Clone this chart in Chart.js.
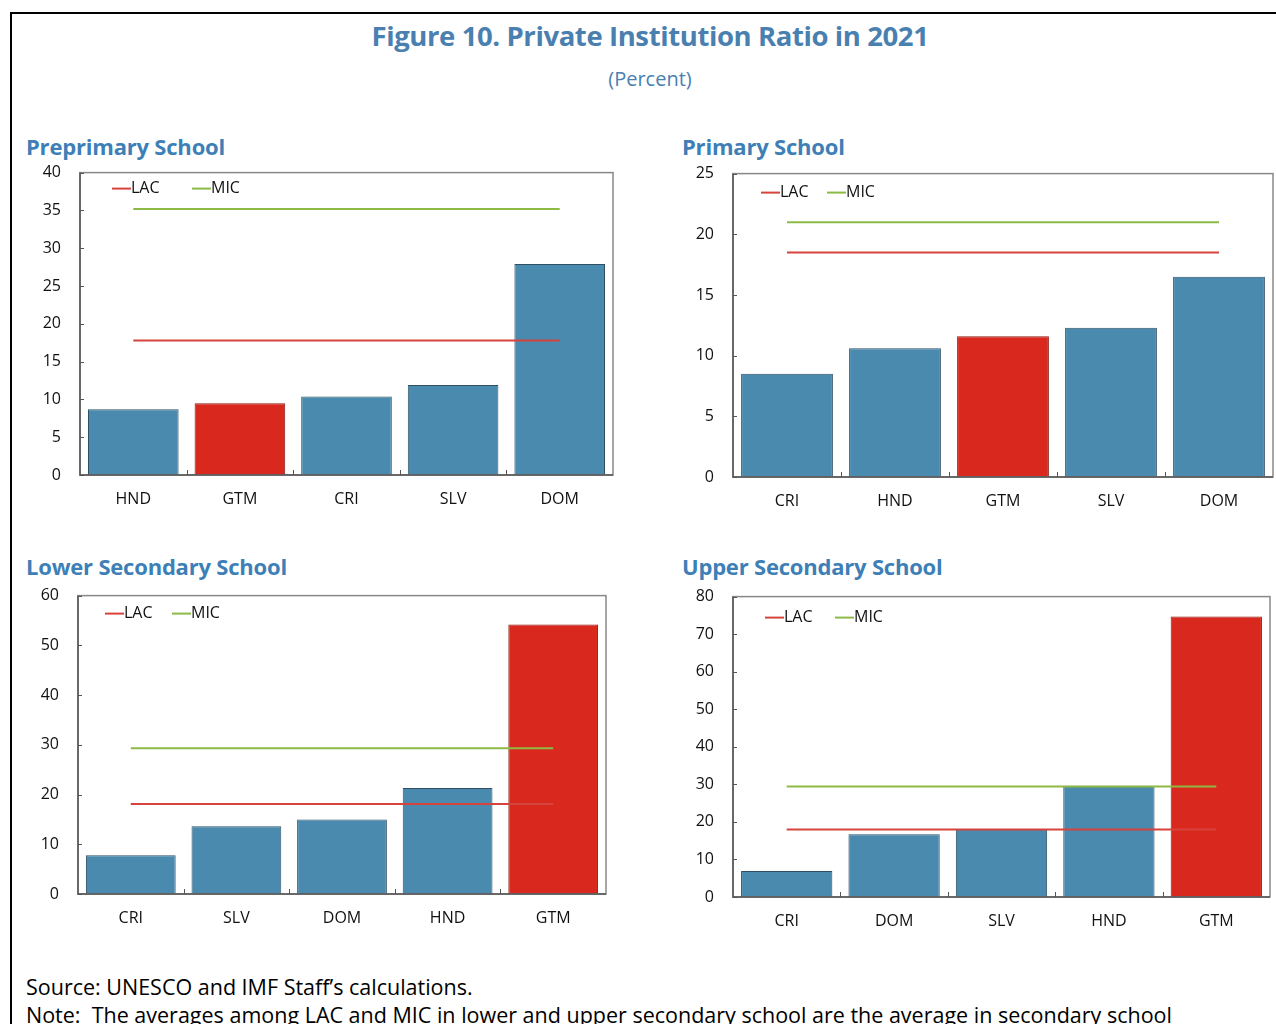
<!DOCTYPE html>
<html>
<head>
<meta charset="utf-8">
<script src="https://cdn.jsdelivr.net/npm/chart.js@4.4.1/dist/chart.umd.min.js"></script>
<style>
  html, body { margin: 0; padding: 0; background: #fff; overflow: hidden; }
  body { width: 1276px; height: 1024px; position: relative; font-family: "Open Sans", sans-serif; }
  #frame { position: absolute; left: 10px; top: 12px; width: 1300px; height: 1100px; border: 2px solid #000; box-sizing: border-box; }
  .abs { position: absolute; white-space: nowrap; }
  #title { left: 0; width: 1300px; text-align: center; top: 17px; font-size: 27.5px; font-weight: bold; color: #4a80b0; letter-spacing: -0.4px; }
  #sub { left: 0; width: 1300px; text-align: center; top: 65px; font-size: 20px; color: #4a80b0; }
  .ptitle { font-size: 22px; font-weight: bold; color: #3d7fb6; letter-spacing: -0.2px; }
  .foot { font-size: 21.5px; color: #000; left: 26px; }
  canvas { position: absolute; }
</style>
</head>
<body>
<div id="frame"></div>
<div id="title" class="abs">Figure 10. Private Institution Ratio in 2021</div>
<div id="sub" class="abs">(Percent)</div>
<div class="abs ptitle" style="left:26px;top:131px">Preprimary School</div>
<div class="abs ptitle" style="left:682px;top:131px">Primary School</div>
<div class="abs ptitle" style="left:26px;top:551px">Lower Secondary School</div>
<div class="abs ptitle" style="left:682px;top:551px">Upper Secondary School</div>
<canvas id="c1" width="585" height="371" style="left:30px;top:144px"></canvas>
<canvas id="c2" width="592" height="372" style="left:683px;top:145px"></canvas>
<canvas id="c3" width="580" height="367" style="left:28px;top:567px"></canvas>
<canvas id="c4" width="589" height="369" style="left:683px;top:568px"></canvas>
<div class="abs foot" style="top:972px">Source: UNESCO and IMF Staff’s calculations.</div>
<div class="abs foot" style="top:1000px">Note:&nbsp; The averages among LAC and MIC in lower and upper secondary school are the average in secondary school</div>
<script>
// data
const preCats = ['HND', 'GTM', 'CRI', 'SLV', 'DOM'];
const preVals = [8.7, 9.5, 10.4, 11.9, 27.9];
const preLac = [17.8, 17.8, 17.8, 17.8, 17.8];
const preMic = [35.2, 35.2, 35.2, 35.2, 35.2];

const priCats = ['CRI', 'HND', 'GTM', 'SLV', 'DOM'];
const priVals = [8.5, 10.6, 11.6, 12.3, 16.5];
const priLac = [18.5, 18.5, 18.5, 18.5, 18.5];
const priMic = [21.0, 21.0, 21.0, 21.0, 21.0];

const lowCats = ['CRI', 'SLV', 'DOM', 'HND', 'GTM'];
const lowVals = [7.8, 13.6, 15.0, 21.3, 54.2];
const lowLac = [18.1, 18.1, 18.1, 18.1, 18.1];
const lowMic = [29.3, 29.3, 29.3, 29.3, 29.3];

const uppCats = ['CRI', 'DOM', 'SLV', 'HND', 'GTM'];
const uppVals = [6.9, 16.7, 18.1, 29.6, 74.7];
const uppLac = [18.0, 18.0, 18.0, 18.0, 18.0];
const uppMic = [29.4, 29.4, 29.4, 29.4, 29.4];

const yMax = [40, 25, 60, 80];
const yStep = [5, 5, 10, 10];

const blue = '#4a8aae';
const red = '#d9291e';
const lacColor = '#d6423c';
const micColor = '#8dba45';
const font = '"Open Sans", sans-serif';

// box round the plot, inward ticks, legend inside plot
const framePlugin = {
  id: 'frame',
  afterDraw(chart) {
    const ctx = chart.ctx;
    const a = chart.chartArea;
    const x = chart.scales.x, y = chart.scales.y;
    ctx.save();
    ctx.strokeStyle = '#888';
    ctx.lineWidth = 1.5;
    ctx.strokeRect(a.left, a.top, a.right - a.left, a.bottom - a.top);
    ctx.strokeStyle = '#555';
    ctx.beginPath();
    ctx.moveTo(a.left, a.top); ctx.lineTo(a.left, a.bottom); ctx.lineTo(a.right, a.bottom);
    ctx.stroke();
    ctx.lineWidth = 1;
    ctx.beginPath();
    y.ticks.forEach(t => {
      const py = Math.round(y.getPixelForValue(t.value)) + 0.5;
      ctx.moveTo(a.left, py); ctx.lineTo(a.left + 4, py);
    });
    const n = chart.data.labels.length;
    for (let i = 1; i < n; i++) {
      const px = Math.round((x.getPixelForValue(i - 1) + x.getPixelForValue(i)) / 2) + 0.5;
      ctx.moveTo(px, a.bottom); ctx.lineTo(px, a.bottom - 5);
    }
    ctx.stroke();

    const lg = chart.options.plugins.frame;
    let lx = a.left + lg.dx;
    const ly = a.top + lg.dy;
    ctx.font = '16px ' + font;
    ctx.textBaseline = 'middle';
    chart.data.datasets.filter(d => d.type === 'line').forEach(d => {
      ctx.strokeStyle = d.borderColor;
      ctx.lineWidth = 2;
      ctx.beginPath(); ctx.moveTo(lx, ly); ctx.lineTo(lx + 19, ly); ctx.stroke();
      ctx.fillStyle = '#111';
      ctx.fillText(d.label, lx + 19, ly);
      lx += lg.gap;
    });
    ctx.restore();
  }
};

function makeChart(id, cats, vals, lac, mic, max, step, lg) {
  new Chart(document.getElementById(id), {
    type: 'bar',
    data: {
      labels: cats,
      datasets: [
        { type: 'line', label: 'LAC', data: lac, borderColor: lacColor, borderWidth: 2, pointRadius: 0, order: 0 },
        { type: 'line', label: 'MIC', data: mic, borderColor: micColor, borderWidth: 2, pointRadius: 0, order: 0 },
        {
          type: 'bar', label: 'Ratio', data: vals, order: 1,
          backgroundColor: cats.map(c => c === 'GTM' ? red : blue),
          borderColor: cats.map(c => c === 'GTM' ? '#8a1a12' : '#2f4f63'),
          borderWidth: 1,
          categoryPercentage: 1.0, barPercentage: 0.85
        }
      ]
    },
    options: {
      responsive: false,
      animation: false,
      devicePixelRatio: 1,
      layout: { padding: { top: 10, right: 2, left: 0, bottom: 0 } },
      plugins: { legend: { display: false }, tooltip: { enabled: false }, frame: lg },
      scales: {
        x: {
          grid: { display: false, drawTicks: false },
          border: { display: false },
          ticks: { color: '#111', font: { family: font, size: 16 }, padding: 15 },
          afterFit: s => { s.height = 40; }
        },
        y: {
          min: 0, max: max,
          grid: { display: false, drawTicks: false },
          border: { display: false },
          ticks: { stepSize: step, color: '#111', font: { family: font, size: 16 }, padding: 19 },
          afterFit: s => { s.width = 50; }
        }
      }
    },
    plugins: [framePlugin]
  });
}

makeChart('c1', preCats, preVals, preLac, preMic, yMax[0], yStep[0], { dx: 32, dy: 16, gap: 80 });
makeChart('c2', priCats, priVals, priLac, priMic, yMax[1], yStep[1], { dx: 28, dy: 19, gap: 66 });
makeChart('c3', lowCats, lowVals, lowLac, lowMic, yMax[2], yStep[2], { dx: 27, dy: 18, gap: 67 });
makeChart('c4', uppCats, uppVals, uppLac, uppMic, yMax[3], yStep[3], { dx: 32, dy: 21, gap: 70 });
</script>
</body>
</html>
